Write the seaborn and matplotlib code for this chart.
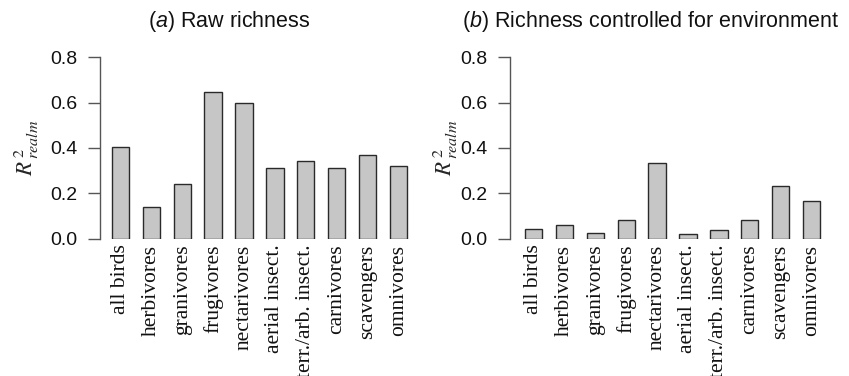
import matplotlib
matplotlib.use("Agg")
import matplotlib.pyplot as plt
import seaborn as sns
import pandas as pd

# Feeding guilds and the realm-level R^2 for each analysis
guilds = ["all birds", "herbivores", "granivores", "frugivores", "nectarivores",
          "aerial insect.", "terr./arb. insect.", "carnivores", "scavengers", "omnivores"]
raw_r2 = [0.403, 0.142, 0.243, 0.646, 0.599, 0.314, 0.344, 0.314, 0.368, 0.321]
env_r2 = [0.044, 0.062, 0.026, 0.082, 0.336, 0.022, 0.041, 0.085, 0.234, 0.168]

panel_titles = [r"($\it{a}$) Raw richness", r"($\it{b}$) Richness controlled for environment"]
y_ticks = [0.0, 0.2, 0.4, 0.6, 0.8]
y_tick_labels = ["0.0", "0.2", "0.4", "0.6", "0.8"]

sns.set_theme(style="white")
plt.rcParams["font.family"] = ["Liberation Sans", "DejaVu Sans"]
plt.rcParams["mathtext.fontset"] = "custom"
plt.rcParams["mathtext.it"] = "Liberation Sans:italic"
plt.rcParams["mathtext.rm"] = "Liberation Sans"

W, H = 849, 376
fig = plt.figure(figsize=(W / 100, H / 100), dpi=100)

bar_face = "#c6c6c6"
bar_edge = "#2a2a2a"
axis_col = "#555555"

panels = [
    dict(values=raw_r2, left_px=100, xmin=-0.66, title_x=229, ylab_x=26),
    dict(values=env_r2, left_px=510, xmin=-0.76, title_x=651, ylab_x=445),
]
unit_px = 30.9
bottom_px, top_px = 239, 57

for p, title in zip(panels, panel_titles):
    xmax = 9.5
    width_px = (xmax - p["xmin"]) * unit_px
    ax = fig.add_axes([p["left_px"] / W, 1 - bottom_px / H,
                       width_px / W, (bottom_px - top_px) / H])
    df = pd.DataFrame({"guild": guilds, "r2": p["values"]})
    sns.barplot(data=df, x="guild", y="r2", ax=ax, color=bar_face, saturation=1,
                width=0.56, edgecolor=bar_edge, linewidth=1.0)
    ax.set_xlim(p["xmin"], xmax)
    ax.set_ylim(0, 0.8)
    for side in ["top", "right", "bottom"]:
        ax.spines[side].set_visible(False)
    ax.spines["left"].set_color(axis_col)
    ax.spines["left"].set_linewidth(1.0)
    ax.spines["left"].set_bounds(0, 0.8)
    ax.set_yticks(y_ticks)
    ax.set_yticklabels(y_tick_labels, fontsize=14, color="#111111")
    ax.tick_params(axis="y", length=8.6, width=1.0, color=axis_col, pad=7.5,
                   left=True, direction="out")
    ax.set_xticks(range(len(guilds)))
    ax.set_xticklabels(guilds, rotation=90, fontsize=15.5,
                       family=["Liberation Serif", "DejaVu Serif"], color="#111111",
                       va="top", ha="center")
    ax.tick_params(axis="x", length=0, pad=4)
    ax.set_xlabel("")
    ax.set_ylabel("")
    ax.grid(False)
    for sp in ax.spines.values():
        sp.set_clip_on(False)
    # y-axis label: italic serif R squared with subscript
    fig.text(p["ylab_x"] / W, 1 - 148 / H, r"$R^{\,2}_{\;realm}$", rotation=90,
             ha="center", va="center", fontsize=16.5,
             math_fontfamily="stix")
    fig.text(p["title_x"] / W, 1 - 22 / H, title, ha="center", va="center",
             fontsize=15.5, color="#111111")

fig.savefig("out.png", dpi=100)
